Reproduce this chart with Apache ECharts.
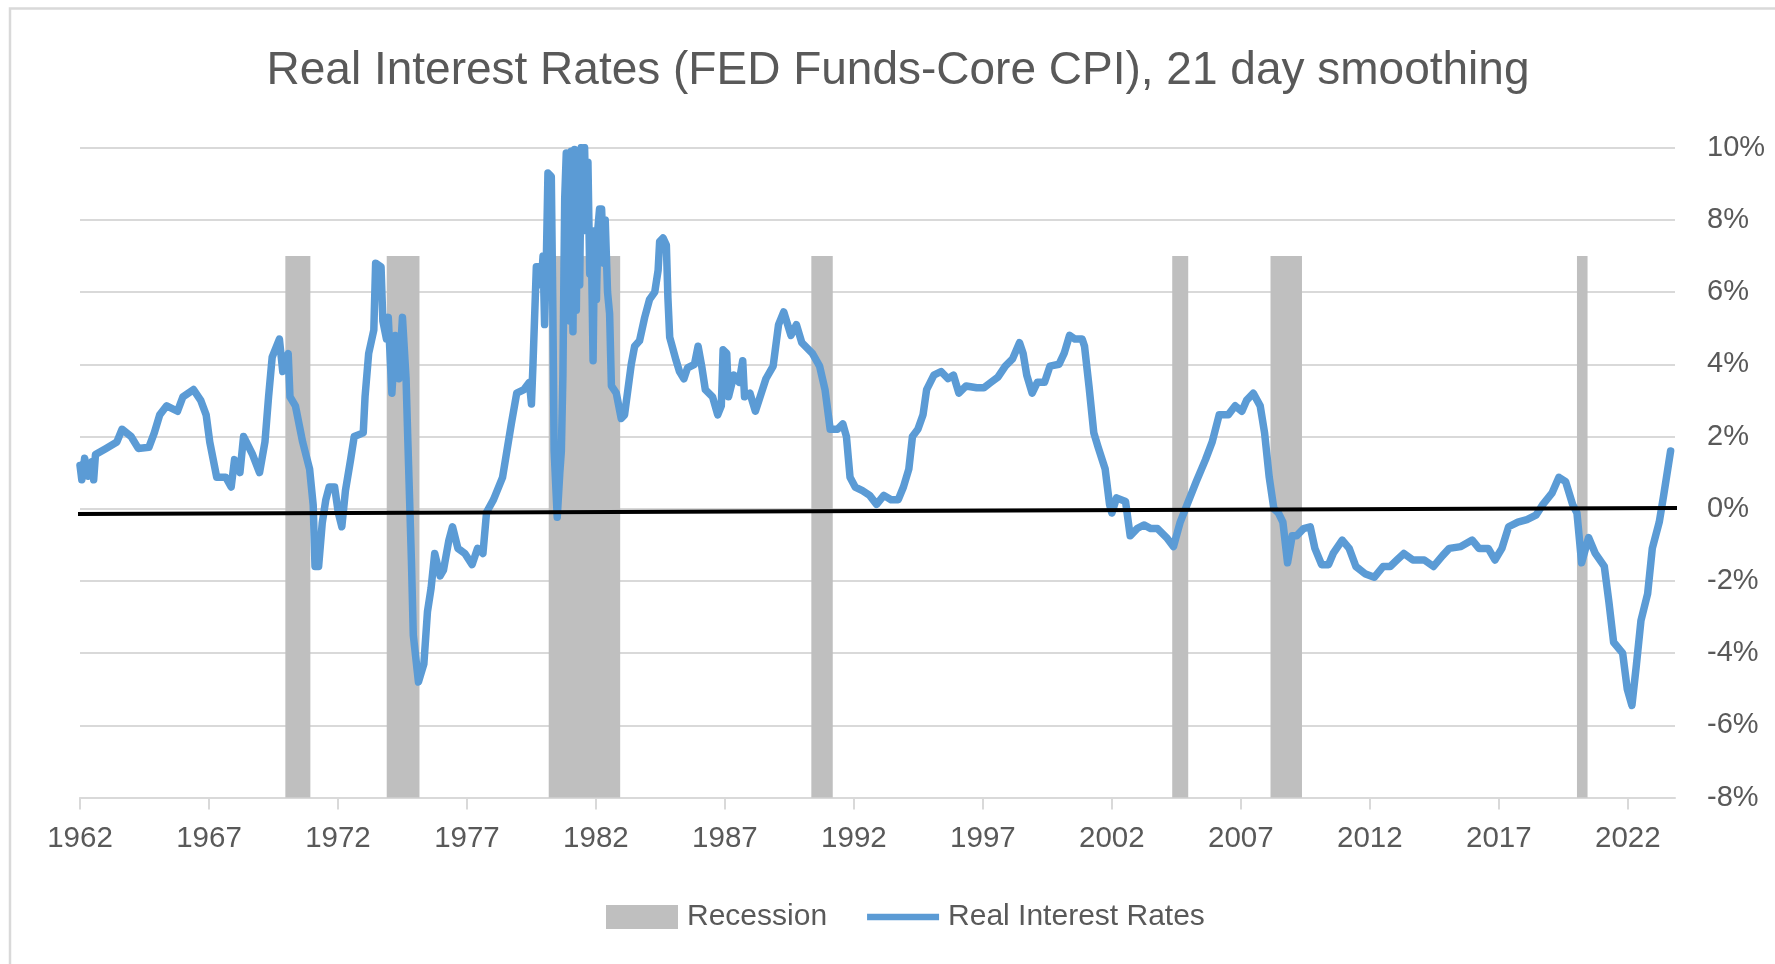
<!DOCTYPE html>
<html>
<head>
<meta charset="utf-8">
<script src="https://cdn.jsdelivr.net/npm/echarts@6/dist/echarts.min.js"></script>
<style>
html,body{margin:0;padding:0;background:#fff;}
#chart{width:1775px;height:964px;}
</style>
</head>
<body>
<div id="chart"></div>
<script>
// ---- data ----
const rateYears = [
1962.00,1962.07,1962.18,1962.32,1962.46,1962.53,1962.60,1963.01,1963.43,1963.63,1963.98,1964.26,1964.67,1964.88,
1965.09,1965.36,1965.78,1965.99,1966.40,1966.68,1966.89,1967.03,1967.30,1967.65,1967.86,1967.99,1968.20,1968.34,
1968.69,1968.96,1969.17,1969.31,1969.45,1969.73,1969.86,1970.07,1970.14,1970.35,1970.63,1970.90,1971.04,1971.11,
1971.25,1971.39,1971.53,1971.66,1971.87,1972.01,1972.15,1972.29,1972.49,1972.63,1972.98,1973.05,1973.19,1973.39,
1973.46,1973.67,1973.74,1973.88,1973.95,1974.09,1974.22,1974.36,1974.50,1974.64,1974.71,1974.85,1974.92,1975.12,
1975.33,1975.47,1975.61,1975.75,1975.96,1976.09,1976.30,1976.44,1976.65,1976.92,1977.20,1977.41,1977.62,1977.76,
1978.03,1978.38,1978.72,1978.93,1979.21,1979.42,1979.50,1979.56,1979.69,1979.82,1979.88,1979.95,1980.01,1980.08,
1980.14,1980.27,1980.33,1980.38,1980.50,1980.60,1980.66,1980.72,1980.79,1980.85,1980.92,1980.98,1981.04,1981.11,
1981.17,1981.24,1981.30,1981.37,1981.43,1981.50,1981.56,1981.63,1981.69,1981.76,1981.82,1981.89,1981.95,1982.02,
1982.08,1982.14,1982.22,1982.30,1982.36,1982.45,1982.53,1982.60,1982.79,1982.98,1983.11,1983.24,1983.37,1983.50,
1983.69,1983.89,1984.08,1984.28,1984.41,1984.47,1984.60,1984.73,1984.79,1984.86,1985.11,1985.24,1985.41,1985.55,
1985.82,1985.96,1986.10,1986.24,1986.52,1986.72,1986.86,1986.93,1987.07,1987.14,1987.35,1987.55,1987.69,1987.76,
1987.97,1988.18,1988.32,1988.59,1988.87,1989.08,1989.28,1989.56,1989.77,1989.98,1990.39,1990.67,1990.88,1991.08,
1991.36,1991.57,1991.71,1991.85,1992.05,1992.33,1992.61,1992.88,1993.16,1993.44,1993.72,1993.92,1994.13,1994.27,
1994.48,1994.68,1994.82,1995.10,1995.38,1995.65,1995.86,1996.07,1996.35,1996.76,1997.04,1997.31,1997.59,1997.87,
1998.15,1998.42,1998.56,1998.70,1998.91,1999.11,1999.39,1999.60,1999.95,2000.15,2000.36,2000.57,2000.85,2000.94,
2001.12,2001.30,2001.47,2001.74,2001.91,2002.00,2002.18,2002.53,2002.71,2002.98,2003.24,2003.51,2003.77,2004.12,
2004.39,2004.65,2004.92,2005.27,2005.63,2005.89,2006.16,2006.51,2006.78,2007.04,2007.22,2007.48,2007.75,2007.92,
2008.10,2008.28,2008.46,2008.63,2008.81,2008.99,2009.16,2009.43,2009.69,2009.87,2010.13,2010.40,2010.58,2010.93,
2011.20,2011.46,2011.81,2012.17,2012.52,2012.79,2013.05,2013.32,2013.67,2014.11,2014.47,2014.82,2015.08,2015.53,
2015.97,2016.23,2016.59,2016.85,2017.12,2017.38,2017.74,2018.09,2018.44,2018.71,2019.06,2019.33,2019.59,2019.86,
2020.03,2020.21,2020.48,2020.74,2021.09,2021.27,2021.45,2021.80,2021.98,2022.16,2022.33,2022.51,2022.77,2022.95,
2023.22,2023.39,2023.66
];
const realRates = [
1.2,0.8,1.4,0.9,1.3,0.8,1.5,1.67,1.85,2.2,2.0,1.67,1.7,2.1,
2.6,2.85,2.7,3.1,3.3,3.0,2.6,1.85,0.87,0.87,0.6,1.36,1.0,2.0,
1.5,1.0,1.85,3.1,4.2,4.7,3.8,4.3,3.1,2.85,1.85,1.1,0.1,-1.6,
-1.6,-0.4,0.25,0.6,0.6,-0.1,-0.5,0.5,1.36,2.0,2.1,3.1,4.3,4.95,
6.8,6.7,5.2,4.7,5.3,3.2,4.8,3.6,5.3,3.6,1.85,-1.5,-3.5,-4.8,
-4.3,-2.85,-2.2,-1.24,-1.86,-1.7,-0.87,-0.5,-1.1,-1.24,-1.55,-1.1,-1.24,-0.1,
0.25,0.87,2.35,3.2,3.3,3.5,2.9,4.0,6.7,6.7,6.2,7.0,5.1,7.0,
9.3,9.2,5.5,1.6,-0.24,1.0,1.6,3.7,8.6,9.85,9.9,5.2,9.9,4.9,
9.95,5.5,9.9,6.2,10.0,7.7,10.0,7.7,9.6,6.5,7.4,4.1,7.7,5.8,
7.8,8.3,8.3,6.8,8.0,6.0,5.4,3.4,3.2,2.5,2.6,3.3,4.0,4.5,
4.65,5.3,5.8,6.0,6.6,7.4,7.5,7.3,5.85,4.75,4.1,3.8,3.6,3.9,
4.0,4.5,3.95,3.3,3.1,2.6,2.85,4.4,4.3,3.1,3.7,3.5,4.1,3.1,
3.2,2.7,3.0,3.6,3.95,5.1,5.45,4.8,5.1,4.6,4.3,3.95,3.3,2.2,
2.2,2.35,2.0,0.87,0.6,0.5,0.37,0.12,0.37,0.25,0.25,0.6,1.1,2.0,
2.2,2.6,3.3,3.7,3.8,3.6,3.7,3.2,3.4,3.35,3.35,3.5,3.65,3.95,
4.15,4.6,4.3,3.7,3.2,3.5,3.5,3.95,4.0,4.3,4.8,4.7,4.7,4.5,
3.35,2.1,1.7,1.1,0.12,-0.12,0.3,0.2,-0.75,-0.55,-0.45,-0.55,-0.55,-0.8,
-1.05,-0.37,0.12,0.75,1.36,1.85,2.6,2.6,2.85,2.7,3.0,3.2,2.85,2.1,
0.87,0.0,-0.12,-0.37,-1.5,-0.75,-0.75,-0.55,-0.5,-1.1,-1.55,-1.55,-1.24,-0.87,
-1.1,-1.6,-1.8,-1.9,-1.6,-1.6,-1.42,-1.24,-1.42,-1.42,-1.6,-1.3,-1.1,-1.05,
-0.87,-1.1,-1.1,-1.42,-1.1,-0.5,-0.37,-0.3,-0.18,0.12,0.43,0.87,0.75,0.12,
-0.12,-1.5,-0.8,-1.24,-1.6,-2.6,-3.7,-4.0,-5.0,-5.45,-4.35,-3.1,-2.35,-1.1,
-0.37,0.37,1.6
];
const recessionStart = [1969.96, 1973.89, 1980.17, 1990.35, 2004.34, 2008.15, 2020.03];
const recessionEnd   = [1970.93, 1975.16, 1982.94, 1991.18, 2004.96, 2009.37, 2020.44];
const recessionHeight = 7;            // top of the grey recession columns (%)
const zeroLineYears  = [1961.85, 2024.10];
const zeroLineValues = [-0.15, 0.02];
const xTickYears = [1962,1967,1972,1977,1982,1987,1992,1997,2002,2007,2012,2017,2022];
const xMin = 1962, xMax = 2023.83;
const yMin = -8, yMax = 10, yStep = 2;
const titleText = 'Real Interest Rates (FED Funds-Core CPI), 21 day smoothing';
const seriesNames = ['Recession', 'Real Interest Rates'];

// ---- chart ----
const FONT = "'Liberation Sans', Arial, sans-serif";
const TXT = '#595959';
const GRIDC = '#D9D9D9';
const chart = echarts.init(document.getElementById('chart'), null, {renderer: 'canvas'});

const rateData = rateYears.map((y, i) => [y, realRates[i]]);
const recData = recessionStart.map((s, i) => [s, recessionEnd[i], recessionHeight]);
const zeroData = zeroLineYears.map((y, i) => [y, zeroLineValues[i]]);

chart.setOption({
  animation: false,
  backgroundColor: '#fff',
  title: {
    text: titleText,
    left: 898, top: 48, textAlign: 'center', padding: 0,
    textStyle: {fontFamily: FONT, fontSize: 46, lineHeight: 46, fontWeight: 'normal', color: TXT}
  },
  graphic: [{
    type: 'rect', silent: true, z: -10,
    shape: {x: 10, y: 8.5, width: 1800, height: 1000},
    style: {fill: null, stroke: GRIDC, lineWidth: 2.5}
  }],
  legend: {
    left: 606, top: 902, padding: 0,
    itemWidth: 72, itemHeight: 24, itemGap: 40,
    itemStyle: {borderWidth: 0},
    textStyle: {fontFamily: FONT, fontSize: 30, color: TXT, lineHeight: 30, padding: [0, 0, 0, 4]},
    data: [
      {name: seriesNames[0], icon: 'rect', itemStyle: {color: '#BFBFBF'}},
      {name: seriesNames[1], icon: 'path://M0,0H74V6.5H0Z', itemStyle: {color: '#5B9BD5'}}
    ]
  },
  grid: {left: 80, right: 100, top: 147.7, bottom: 166.5, containLabel: false},
  xAxis: {
    type: 'value', min: xMin, max: xMax,
    splitLine: {show: false},
    axisLine: {show: true, onZero: false, lineStyle: {color: GRIDC, width: 2}},
    axisTick: {show: true, length: 12, customValues: xTickYears, lineStyle: {color: GRIDC, width: 2}},
    axisLabel: {
      customValues: xTickYears, margin: 26,
      fontFamily: FONT, fontSize: 29.5, lineHeight: 30, color: TXT,
      formatter: v => String(Math.round(v))
    }
  },
  yAxis: {
    type: 'value', position: 'right', min: yMin, max: yMax, interval: yStep,
    axisLine: {show: false}, axisTick: {show: false},
    splitLine: {show: true, lineStyle: {color: GRIDC, width: 2}},
    axisLabel: {
      margin: 32, fontFamily: FONT, fontSize: 29, color: TXT,
      formatter: v => v + '%'
    }
  },
  series: [
    {
      name: seriesNames[0], type: 'custom', z: 1,
      itemStyle: {color: '#BFBFBF'},
      encode: {x: [0, 1], y: 2},
      data: recData,
      renderItem: (params, api) => {
        const p0 = api.coord([api.value(0), api.value(2)]);
        const p1 = api.coord([api.value(1), yMin]);
        return {
          type: 'rect',
          shape: {x: p0[0], y: p0[1], width: p1[0] - p0[0], height: p1[1] - p0[1]},
          style: {fill: '#BFBFBF'}
        };
      }
    },
    {
      name: seriesNames[1], type: 'line', z: 3,
      data: rateData, showSymbol: false, symbol: 'none',
      itemStyle: {color: '#5B9BD5'},
      lineStyle: {color: '#5B9BD5', width: 7.5, cap: 'round', join: 'round'}
    },
    {
      name: 'zero', type: 'line', z: 4, clip: false, silent: true,
      data: zeroData, showSymbol: false, symbol: 'none',
      lineStyle: {color: '#000', width: 4}
    }
  ]
});
</script>
</body>
</html>
